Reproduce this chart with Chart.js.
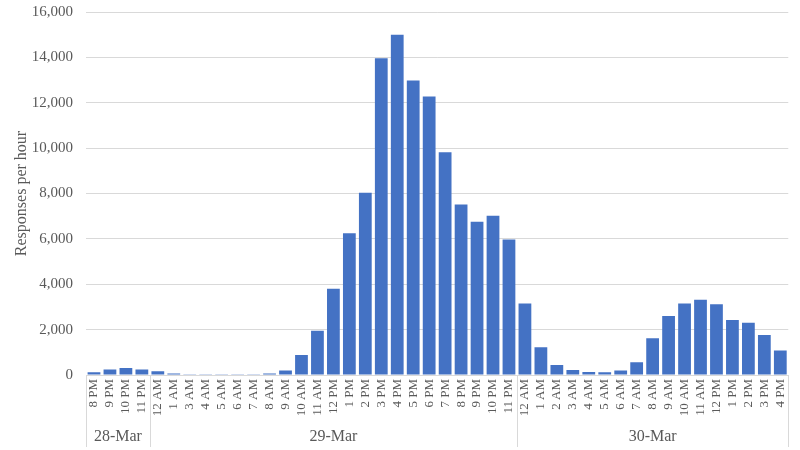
<!DOCTYPE html>
<html>
<head>
<meta charset="utf-8">
<script src="https://cdn.jsdelivr.net/npm/chart.js@4.4.1/dist/chart.umd.min.js"></script>
<style>
  html, body { margin: 0; padding: 0; background: #fff; }
  #wrap { width: 800px; height: 450px; }
</style>
</head>
<body>
<div id="wrap"><canvas id="responsesChart"></canvas></div>
<script>
// Days and hours (29-Mar has no 2 AM - clocks went forward)
const days = ['28-Mar', '29-Mar', '30-Mar'];
const hours28 = ['8 PM', '9 PM', '10 PM', '11 PM'];
const hours29 = ['12 AM', '1 AM', '3 AM', '4 AM', '5 AM', '6 AM', '7 AM', '8 AM', '9 AM', '10 AM', '11 AM',
    '12 PM', '1 PM', '2 PM', '3 PM', '4 PM', '5 PM', '6 PM', '7 PM', '8 PM', '9 PM', '10 PM', '11 PM'];
const hours30 = ['12 AM', '1 AM', '2 AM', '3 AM', '4 AM', '5 AM', '6 AM', '7 AM', '8 AM', '9 AM', '10 AM', '11 AM',
    '12 PM', '1 PM', '2 PM', '3 PM', '4 PM'];

const values28 = [120, 240, 310, 240];
const values29 = [160, 70, 15, 10, 10, 10, 15, 70, 200, 880, 1950,
    3800, 6250, 8030, 13960, 15000, 12980, 12270, 9820, 7510, 6750, 7020, 5970];
const values30 = [3150, 1220, 440, 220, 130, 120, 200, 560, 1620, 2600, 3150, 3320,
    3120, 2420, 2300, 1760, 1080];

const yTicks = [0, 2000, 4000, 6000, 8000, 10000, 12000, 14000, 16000];

const hourGroups = [hours28, hours29, hours30];
const labels = [].concat(hours28, hours29, hours30);
const values = [].concat(values28, values29, values30);

const serif = "'Liberation Serif', 'Times New Roman', serif";
const textGrey = '#595959';
const lineGrey = '#D9D9D9';

// draws the second level of the category axis (day names + separators)
const dayAxisPlugin = {
    id: 'dayAxis',
    afterDraw(chart) {
        const xs = chart.scales.x;
        const ctx = chart.ctx;
        const step = (xs.right - xs.left) / labels.length;
        const top = xs.top;
        const bottom = 447;
        ctx.save();
        ctx.strokeStyle = lineGrey;
        ctx.lineWidth = 1;
        ctx.fillStyle = textGrey;
        ctx.font = '16px ' + serif;
        ctx.textAlign = 'center';
        ctx.textBaseline = 'middle';
        let idx = 0;
        const edges = [xs.left];
        hourGroups.forEach(function (g, i) {
            const start = xs.left + idx * step;
            idx += g.length;
            const end = xs.left + idx * step;
            edges.push(end);
            ctx.fillText(days[i], (start + end) / 2, 437);
        });
        edges.forEach(function (x) {
            const px = Math.round(x) + 0.5;
            ctx.beginPath();
            ctx.moveTo(px, top);
            ctx.lineTo(px, bottom);
            ctx.stroke();
        });
        ctx.restore();
    }
};

new Chart(document.getElementById('responsesChart'), {
    type: 'bar',
    data: {
        labels: labels,
        datasets: [{
            label: 'Responses per hour',
            data: values,
            backgroundColor: '#4472C4',
            borderWidth: 0,
            barPercentage: 0.8,
            categoryPercentage: 1.0
        }]
    },
    options: {
        responsive: true,
        maintainAspectRatio: false,
        animation: false,
        layout: {
            padding: { top: 12, right: 8, bottom: 33, left: 0 }
        },
        scales: {
            x: {
                grid: { display: false, drawTicks: false },
                border: { display: true, color: lineGrey },
                ticks: {
                    autoSkip: false,
                    minRotation: 90,
                    maxRotation: 90,
                    padding: 4,
                    color: textGrey,
                    font: { family: serif, size: 13 }
                },
                afterFit: function (scale) { scale.height = 42; }
            },
            y: {
                min: 0,
                max: 16000,
                afterBuildTicks: function (scale) {
                    scale.ticks = yTicks.map(function (v) { return { value: v }; });
                },
                grid: { color: lineGrey, drawTicks: false },
                border: { display: false },
                ticks: {
                    padding: 13,
                    color: textGrey,
                    font: { family: serif, size: 15 },
                    callback: function (v) { return v.toLocaleString('en-US'); }
                },
                title: {
                    display: true,
                    text: 'Responses per hour',
                    color: textGrey,
                    font: { family: serif, size: 16 },
                    padding: { top: 12, bottom: 0 }
                },
                afterFit: function (scale) {
                    scale.width = 86;
                    scale.paddingTop = 0;
                    scale.paddingBottom = 0;
                }
            }
        },
        plugins: {
            legend: { display: false },
            tooltip: { enabled: false }
        }
    },
    plugins: [dayAxisPlugin]
});
</script>
</body>
</html>
